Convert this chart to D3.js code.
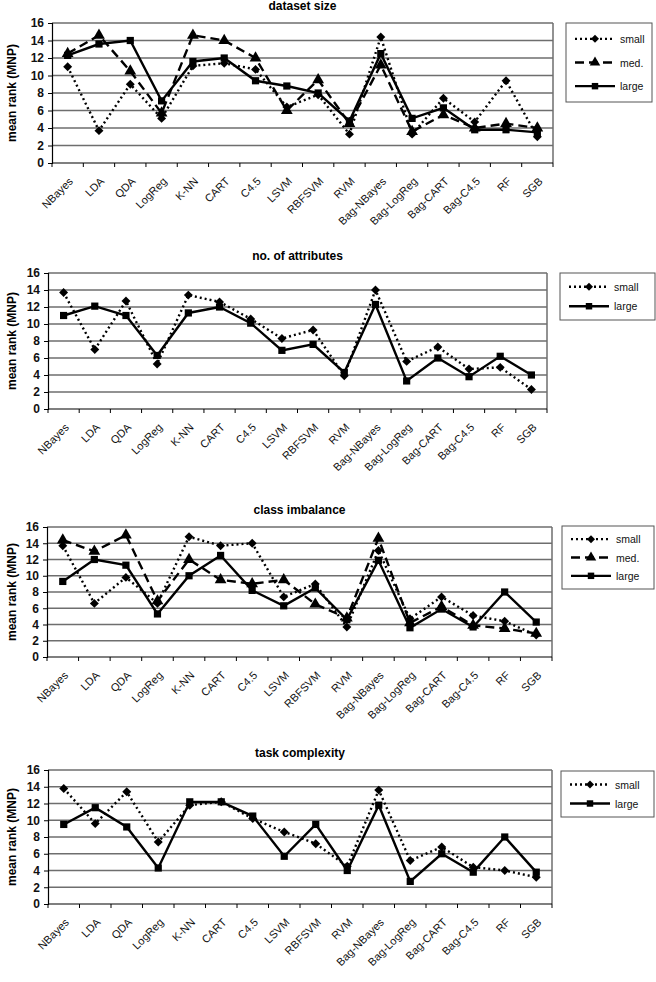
<!DOCTYPE html>
<html>
<head>
<meta charset="UTF-8">
<title>mean rank</title>
<script src="https://cdn.jsdelivr.net/npm/d3@7"></script>
<style>
	body { margin: 0; background: #fff; }
	text { font-family: "Liberation Sans", Arial, sans-serif; }
</style>
</head>
<body>
	<div id="chart"></div>
	<script type="text/javascript">
		var categories = ["NBayes", "LDA", "QDA", "LogReg", "K-NN", "CART", "C4.5", "LSVM", "RBFSVM", "RVM",
			"Bag-NBayes", "Bag-LogReg", "Bag-CART", "Bag-C4.5", "RF", "SGB"];
		var yTicks = [0, 2, 4, 6, 8, 10, 12, 14, 16];

		// dataset size
		var sizeSmall = [11.0, 3.7, 9.0, 5.1, 11.1, 11.4, 10.7, 6.4, 7.8, 3.3, 14.4, 3.3, 7.4, 4.7, 9.4, 3.0];
		var sizeMed = [12.5, 14.6, 10.5, 5.7, 14.6, 14.0, 12.0, 6.0, 9.5, 4.5, 11.2, 3.6, 5.5, 4.0, 4.5, 4.0];
		var sizeLarge = [12.3, 13.6, 14.0, 7.1, 11.6, 12.0, 9.4, 8.8, 8.0, 4.8, 12.5, 5.1, 6.3, 3.8, 3.8, 3.5];

		// no. of attributes
		var attrSmall = [13.7, 7.0, 12.7, 5.3, 13.4, 12.6, 10.6, 8.3, 9.3, 3.9, 14.0, 5.6, 7.3, 4.7, 4.9, 2.3];
		var attrLarge = [11.0, 12.1, 11.0, 6.3, 11.3, 12.0, 10.1, 6.9, 7.6, 4.3, 12.3, 3.3, 6.0, 3.8, 6.2, 4.0];

		// class imbalance
		var imbSmall = [13.7, 6.6, 9.8, 6.6, 14.8, 13.7, 14.0, 7.4, 9.0, 3.7, 13.1, 4.7, 7.4, 5.1, 4.4, 2.7];
		var imbMed = [14.4, 13.0, 15.0, 6.9, 12.0, 9.5, 9.0, 9.5, 6.5, 4.8, 14.6, 4.2, 6.2, 3.9, 3.5, 2.9];
		var imbLarge = [9.3, 12.0, 11.3, 5.3, 10.0, 12.5, 8.2, 6.3, 8.5, 4.6, 11.9, 3.6, 5.9, 3.7, 8.0, 4.3];

		// task complexity
		var taskSmall = [13.8, 9.6, 13.4, 7.4, 11.8, 12.2, 10.2, 8.6, 7.2, 4.5, 13.6, 5.2, 6.8, 4.4, 4.0, 3.2];
		var taskLarge = [9.5, 11.5, 9.2, 4.3, 12.2, 12.2, 10.5, 5.7, 9.5, 4.0, 11.8, 2.7, 6.0, 3.8, 8.0, 3.8];

		var styles = {
			small: { dash: "2,3", marker: d3.symbolSquare, size: 40, rot: 45 },
			"med.": { dash: "9,5", marker: d3.symbolTriangle, size: 60, rot: 0 },
			large: { dash: null, marker: d3.symbolSquare, size: 52, rot: 0 }
		};

		var panels = [
			{ title: "dataset size", left: 52, right: 553, top: 23, bottom: 163, leg: [566, 23, 86, 79],
				series: [["small", sizeSmall], ["med.", sizeMed], ["large", sizeLarge]] },
			{ title: "no. of attributes", left: 48, right: 547, top: 273, bottom: 409, leg: [560, 273, 95, 47],
				series: [["small", attrSmall], ["large", attrLarge]] },
			{ title: "class imbalance", left: 47, right: 552, top: 527, bottom: 657, leg: [562, 526, 92, 63],
				series: [["small", imbSmall], ["med.", imbMed], ["large", imbLarge]] },
			{ title: "task complexity", left: 48, right: 552, top: 770, bottom: 904, leg: [561, 771, 93, 46],
				series: [["small", taskSmall], ["large", taskLarge]] }
		];

		var svg = d3.select("#chart").append("svg").attr("width", 656).attr("height", 982);

		panels.forEach(function(p) {
			var g = svg.append("g");
			var x = d3.scaleBand().domain(categories).range([p.left, p.right]);
			var y = d3.scaleLinear().domain([0, 16]).range([p.bottom, p.top]);

			// gridlines
			g.selectAll(".grid").data(yTicks.filter(function(d) { return d > 0; })).enter().append("line")
				.attr("x1", p.left).attr("x2", p.right)
				.attr("y1", function(d) { return y(d); }).attr("y2", function(d) { return y(d); })
				.attr("stroke", "#6e6e6e").attr("stroke-width", 1.5);
			// plot border right
			g.append("line").attr("x1", p.right).attr("x2", p.right).attr("y1", p.top).attr("y2", p.bottom)
				.attr("stroke", "#6e6e6e").attr("stroke-width", 1.5);

			// y axis
			var ya = g.append("g").attr("transform", "translate(" + p.left + ",0)")
				.call(d3.axisLeft(y).tickValues(yTicks).tickSize(4).tickPadding(4));
			ya.select(".domain").attr("stroke", "#000").attr("stroke-width", 1.2);
			ya.selectAll(".tick line").attr("stroke", "#000");
			ya.selectAll("text").attr("font-size", 12).attr("font-weight", "bold")
				.attr("font-family", "'Liberation Sans', Arial, sans-serif").attr("fill", "#111");

			// x axis, ticks on category boundaries
			var xa = g.append("g").attr("transform", "translate(0," + p.bottom + ")");
			xa.append("line").attr("x1", p.left).attr("x2", p.right).attr("stroke", "#000").attr("stroke-width", 1.2);
			xa.selectAll(".bt").data(categories.concat([null])).enter().append("line")
				.attr("x1", function(d, i) { return p.left + i * x.step(); })
				.attr("x2", function(d, i) { return p.left + i * x.step(); })
				.attr("y1", 0).attr("y2", 4).attr("stroke", "#000");
			xa.selectAll(".lab").data(categories).enter().append("text")
				.attr("transform", function(d) { return "translate(" + (x(d) + x.bandwidth() / 2 + 6) + ",19) rotate(-45)"; })
				.attr("text-anchor", "end").attr("font-size", 11).attr("fill", "#111")
				.attr("font-family", "'Liberation Sans', Arial, sans-serif")
				.text(function(d) { return d; });

			// title
			g.append("text").attr("x", (p.left + p.right) / 2).attr("y", p.top - 13)
				.attr("text-anchor", "middle").attr("font-size", 12).attr("font-weight", "bold").text(p.title);
			// y title
			g.append("text").attr("transform", "translate(16," + (p.top + p.bottom) / 2 + ") rotate(-90)")
				.attr("text-anchor", "middle").attr("font-size", 12).attr("font-weight", "bold").text("mean rank (MNP)");

			// lines
			var line = d3.line().x(function(d, i) { return x(categories[i]) + x.bandwidth() / 2; })
				.y(function(d) { return y(d); });
			p.series.forEach(function(s) {
				var st = styles[s[0]];
				g.append("path").datum(s[1]).attr("fill", "none").attr("stroke", "#000")
					.attr("stroke-width", 2.4).attr("stroke-dasharray", st.dash).attr("d", line);
				g.selectAll(null).data(s[1]).enter().append("path")
					.attr("d", d3.symbol().type(st.marker).size(st.size))
					.attr("transform", function(d, i) {
						return "translate(" + (x(categories[i]) + x.bandwidth() / 2) + "," + y(d) + ") rotate(" + st.rot + ")";
					})
					.attr("fill", "#000");
			});

			// legend
			var lg = g.append("g").attr("transform", "translate(" + p.leg[0] + "," + p.leg[1] + ")");
			lg.append("rect").attr("width", p.leg[2]).attr("height", p.leg[3])
				.attr("fill", "#fff").attr("stroke", "#555").attr("stroke-width", 1);
			var rowGap = (p.leg[3] - 8) / p.series.length;
			p.series.forEach(function(s, i) {
				var st = styles[s[0]];
				var ry = 4 + rowGap * (i + 0.5);
				lg.append("line").attr("x1", 9).attr("x2", 49).attr("y1", ry).attr("y2", ry)
					.attr("stroke", "#000").attr("stroke-width", 2.4).attr("stroke-dasharray", st.dash);
				lg.append("path").attr("d", d3.symbol().type(st.marker).size(st.size * 0.8))
					.attr("transform", "translate(29," + ry + ") rotate(" + st.rot + ")").attr("fill", "#000");
				lg.append("text").attr("x", 54).attr("y", ry + 4).attr("font-size", 10.5).attr("fill", "#111").text(s[0]);
			});
		});
	</script>
</body>
</html>
